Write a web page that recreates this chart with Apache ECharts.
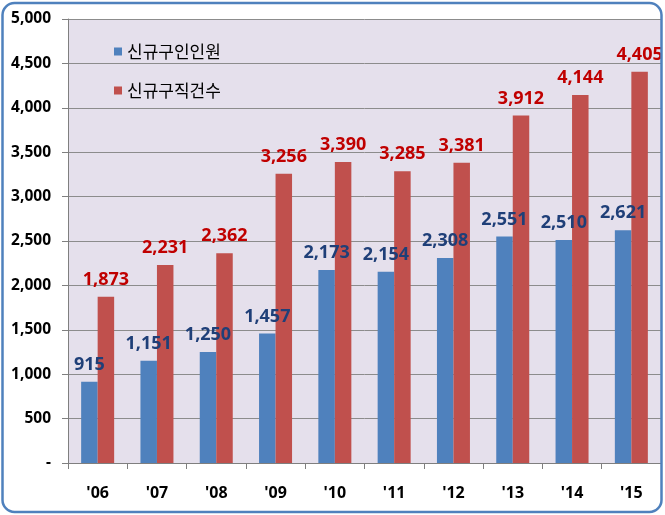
<!DOCTYPE html>
<html>
<head>
<meta charset="utf-8">
<script src="https://cdn.jsdelivr.net/npm/echarts@6/dist/echarts.min.js"></script>
<style>
html,body{margin:0;padding:0;background:#fff;}
#c{width:665px;height:515px;}
</style>
</head>
<body>
<div id="c"></div>
<script>
const categories = ["'06","'07","'08","'09","'10","'11","'12","'13","'14","'15"];
const seriesNames = ["신규구인인원","신규구직건수"];
const jobOpenings = [915,1151,1250,1457,2173,2154,2308,2551,2510,2621];
const jobSeekers = [1873,2231,2362,3256,3390,3285,3381,3912,4144,4405];

const fmt = v => v === 0 ? '-' : String(v).replace(/\B(?=(\d{3})+(?!\d))/g, ',');
const chart = echarts.init(document.getElementById('c'), null, {renderer:'canvas'});
chart.setOption({
  animation:false,
  backgroundColor:'#fff',
  textStyle:{fontFamily:'"Noto Sans", "Noto Sans CJK KR", sans-serif'},
  graphic:[{
    type:'rect', z:100, silent:true,
    shape:{x:2.5, y:3, width:659, height:509, r:12},
    style:{fill:'none', stroke:'#4F81BD', lineWidth:2.5}
  }],
  legend:{
    orient:'vertical', left:109, top:38, itemWidth:8, itemHeight:8, itemGap:22,
    icon:'rect',
    textStyle:{fontSize:17, color:'#000', fontFamily:'"Noto Sans CJK KR", sans-serif'},
    data:seriesNames
  },
  grid:{left:68, right:4, top:19, bottom:52, show:true, backgroundColor:'#E5E0EC', borderWidth:0},
  xAxis:{
    type:'category', data:categories,
    axisLine:{show:true, lineStyle:{color:'#7f7f7f', width:1}},
    axisTick:{show:true, length:6, lineStyle:{color:'#7f7f7f'}},
    axisLabel:{fontSize:16, fontWeight:'bold', color:'#000', margin:22}
  },
  yAxis:{
    type:'value', min:0, max:5000, interval:500,
    axisLine:{show:true, lineStyle:{color:'#7f7f7f'}},
    axisTick:{show:true, length:6, lineStyle:{color:'#7f7f7f'}},
    splitLine:{lineStyle:{color:'#8c8c8c', width:1}},
    axisLabel:{fontSize:15.5, fontWeight:'bold', color:'#000', margin:17, formatter:fmt}
  },
  series:[
    {name:seriesNames[0], type:'bar', data:jobOpenings, barWidth:16.5, barGap:'0%',
     itemStyle:{color:'#4F81BD'},
     label:{show:true, position:'top', distance:8, fontSize:18, fontWeight:'bold', color:'#1F3F78', formatter:p=>fmt(p.value)}},
    {name:seriesNames[1], type:'bar', data:jobSeekers, barWidth:16.5, barGap:'0%',
     itemStyle:{color:'#C0504D'},
     label:{show:true, position:'top', distance:8, fontSize:18, fontWeight:'bold', color:'#C00000', formatter:p=>fmt(p.value)}}
  ]
});
</script>
</body>
</html>
